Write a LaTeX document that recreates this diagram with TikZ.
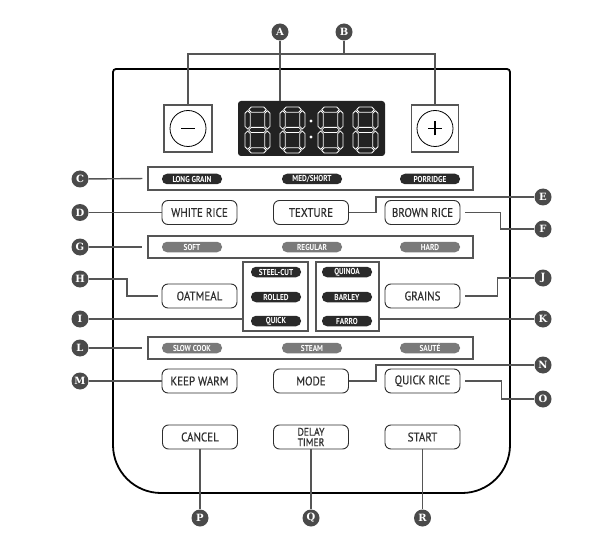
\documentclass[tikz,border=0pt]{standalone}
\usepackage{fontspec}
\setmainfont{PT Sans}
\newfontfamily\btnfont{PT Sans}[FakeStretch=0.88,FakeBold=0.5]
\newfontfamily\pillfont{PT Sans Bold}[FakeStretch=0.85]
\newfontfamily\labfont{DejaVu Serif}
\definecolor{annc}{HTML}{4A4A4A}
\definecolor{linec}{HTML}{555555}
\definecolor{pilldk}{HTML}{2A2A2A}
\definecolor{pillgr}{HTML}{7A7A7A}
\definecolor{btnc}{HTML}{2E2E2E}
\definecolor{dispc}{HTML}{222222}
\newcommand\segT{2.6}
\newcommand\hseg[3]{\draw[segst] (#1,#3) -- (#1+\segT,#3-\segT) -- (#2-\segT,#3-\segT) -- (#2,#3) -- (#2-\segT,#3+\segT) -- (#1+\segT,#3+\segT) -- cycle;}
\newcommand\vseg[3]{\draw[segst] (#1,#2) -- (#1+\segT,#2+\segT) -- (#1+\segT,#3-\segT) -- (#1,#3) -- (#1-\segT,#3-\segT) -- (#1-\segT,#2+\segT) -- cycle;}
\newcommand\digitat[2]{\begin{scope}[shift={(#1,#2)}]
\hseg{3.6}{21.4}{2.6}\hseg{3.6}{21.4}{23}\hseg{3.6}{21.4}{43.4}
\vseg{2.6}{3.6}{22}\vseg{2.6}{24}{42.4}\vseg{22.4}{3.6}{22}\vseg{22.4}{24}{42.4}
\end{scope}}
\begin{document}
\begin{tikzpicture}[x=1pt,y=-1pt,
  ann/.style={circle, fill=annc, text=white, inner sep=0pt, minimum size=17pt, font=\labfont\bfseries\fontsize{10}{10}\selectfont},
  btn/.style={draw=btnc, line width=0.9pt, rounded corners=6pt, minimum width=75pt, minimum height=24pt, inner sep=0pt, text=btnc, font=\btnfont\fontsize{12.5}{10}\selectfont, align=center},
  pilld/.style={fill=pilldk, text=white, rounded corners=5pt, minimum width=60pt, minimum height=10.5pt, inner sep=0pt, font=\pillfont\fontsize{8.6}{8}\selectfont},
  pillg/.style={pilld, fill=pillgr},
  pills/.style={minimum width=50pt},
  grp/.style={draw=linec, line width=1.4pt, inner sep=0pt},
  conn/.style={draw=linec, line width=1.4pt},
  segst/.style={draw=white, line width=0.8pt, line join=round}]
\useasboundingbox (0,0) rectangle (594,540);
% panel
\draw[line width=1.8pt] (113,300) [rounded corners=3pt] -- (113,69) -- (510,69) -- (510,300) [rounded corners=48pt] -- (510,493) -- (113,493) -- cycle;
% plus / minus
\node[grp, line width=1.2pt, minimum width=48pt, minimum height=47pt] (minus) at (188,128.5) {};
\node[grp, line width=1.2pt, minimum width=47pt, minimum height=47pt] (plus) at (435,128.5) {};
\draw[line width=0.8pt] (minus.center) circle (18);
\draw[line width=0.8pt] (plus.center) circle (18);
\draw[line width=1.1pt] ([xshift=-7pt]minus.center) -- ([xshift=7pt]minus.center);
\draw[line width=1.1pt] ([xshift=-7pt]plus.center) -- ([xshift=7pt]plus.center);
\draw[line width=1.1pt] ([yshift=-7pt]plus.center) -- ([yshift=7pt]plus.center);
% display
\node[fill=dispc, rounded corners=3pt, minimum width=147pt, minimum height=55pt, inner sep=0pt] (disp) at (311.5,128.5) {};
\digitat{245}{107}\digitat{280}{107}\digitat{318}{107}\digitat{353}{107}
\fill[white] (311,121) circle (1.7) (311,137) circle (1.7);
% group rows
\node[grp, minimum width=325pt, minimum height=23pt] (rowC) at (310.5,178.5) {};
\node[pilld] (lg) at (192,179) {LONG GRAIN};
\node[pilld] (ms) at (312,179) {MED/SHORT};
\node[pilld] (po) at (430,179) {PORRIDGE};
\node[btn] (white) at (199.5,212.5) {WHITE RICE};
\node[btn] (texture) at (311,212.5) {TEXTURE};
\node[btn] (brown) at (422.5,212.5) {BROWN RICE};
\node[grp, minimum width=325pt, minimum height=22pt] (rowG) at (310.5,247) {};
\node[pillg] (soft) at (192,247) {SOFT};
\node[pillg] (reg) at (312,247) {REGULAR};
\node[pillg] (hard) at (430,247) {HARD};
\node[btn] (oat) at (199.5,296) {OATMEAL};
\node[btn] (grains) at (422.5,296) {GRAINS};
\node[grp, minimum width=65pt, minimum height=69pt] (oatbox) at (275.5,296.5) {};
\node[grp, minimum width=63pt, minimum height=69pt] (grainbox) at (347.5,296.5) {};
\node[pilld, pills] (sc) at (276,272) {STEEL-CUT};
\node[pilld, pills] (ro) at (276,297) {ROLLED};
\node[pilld, pills] (qu) at (276,321) {QUICK};
\node[pilld, pills] (qn) at (347,272) {QUINOA};
\node[pilld, pills] (ba) at (347,297) {BARLEY};
\node[pilld, pills] (fa) at (347,321) {FARRO};
\node[grp, minimum width=325pt, minimum height=22pt] (rowL) at (310.5,348) {};
\node[pillg] (slow) at (192,348) {SLOW COOK};
\node[pillg] (steam) at (312,348) {STEAM};
\node[pillg] (saute) at (430,348) {SAUTÉ};
\node[btn] (keep) at (199.5,381) {KEEP WARM};
\node[btn] (mode) at (311,381) {MODE};
\node[btn] (quick) at (422.5,381) {QUICK RICE};
\node[btn] (cancel) at (200,437) {CANCEL};
\node[btn, font=\btnfont\fontsize{11}{10.5}\selectfont] (delay) at (311,437) {DELAY\\TIMER};
\node[btn] (start) at (422.5,437) {START};
% annotation markers
\node[ann] (A) at (280,32) {A};
\node[ann] (B) at (344,32) {B};
\node[ann] (C) at (80,179) {C};
\node[ann] (D) at (80,212.5) {D};
\node[ann] (G) at (80,247) {G};
\node[ann] (H) at (80,279) {H};
\node[ann] (I) at (80,319) {I};
\node[ann] (L) at (80,348) {L};
\node[ann] (M) at (80,381) {M};
\node[ann] (E) at (543,197) {E};
\node[ann] (F) at (543,229) {F};
\node[ann] (J) at (543,278) {J};
\node[ann] (K) at (543,319) {K};
\node[ann] (N) at (543,365) {N};
\node[ann] (O) at (543,399) {O};
\node[ann] (P) at (200,518) {P};
\node[ann] (Q) at (311,518) {Q};
\node[ann] (R) at (422.5,518) {R};
% connectors
\coordinate (bj) at (344,54);
\draw[conn] (A) -- (A |- disp.north);
\draw[conn] (B) -- (bj);
\draw[conn] (minus.north) |- (bj) -| (plus.north);
\draw[conn, shorten >=5pt] (C) -- (rowC.west);
\draw[conn] (D) -- (white.west);
\draw[conn] (texture.east) -- ++(27,0) |- (E);
\draw[conn, shorten <=5pt] (brown.east) -- ++(40,0) |- (F);
\draw[conn, shorten >=5pt] (G) -- (rowG.west);
\draw[conn, shorten >=4pt] (H) -- ++(47,0) |- (oat.west);
\draw[conn] (I) -- (I -| oatbox.west);
\draw[conn, shorten <=5pt] (grains.east) -- ++(37,0) |- (J);
\draw[conn] (K) -- (K -| grainbox.east);
\draw[conn, shorten >=5pt] (L) -- (rowL.west);
\draw[conn] (M) -- (keep.west);
\draw[conn] (mode.east) -- ++(27,0) |- (N);
\draw[conn, shorten <=5pt] (quick.east) -- ++(41,0) |- (O);
\draw[conn] (cancel.south) -- (P);
\draw[conn] (delay.south) -- (Q);
\draw[conn] (start.south) -- (R);
\end{tikzpicture}
\end{document}
